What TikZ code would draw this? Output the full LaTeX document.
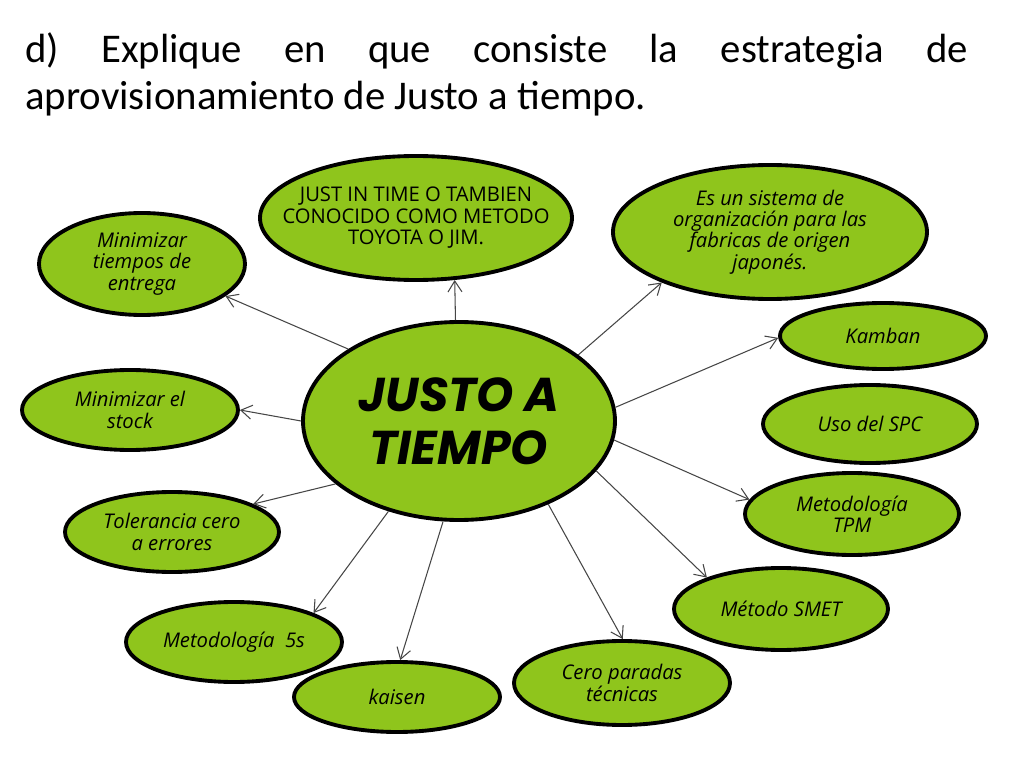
\documentclass[tikz,border=0pt]{standalone}
\usepackage{fontspec}
\setmainfont{Carlito}
\newfontfamily\handfont{Open Sans}
\newfontfamily\brushfont{Poppins}
\usetikzlibrary{shapes.geometric,arrows.meta}
\definecolor{leafgreen}{RGB}{143,197,28}
\definecolor{edgegray}{RGB}{70,70,70}

\begin{document}
\begin{tikzpicture}[
    center_node/.style={ellipse,draw=black,line width=2.2pt,fill=leafgreen,inner sep=0pt,align=center,
      font=\brushfont\bfseries\itshape\fontsize{27}{30}\selectfont},
    leaf_node/.style={ellipse,draw=black,line width=2.2pt,fill=leafgreen,inner sep=0pt,align=center,
      font=\handfont\itshape\fontsize{11.5}{12.2}\selectfont},
    caps_node/.style={leaf_node,inner xsep=-0.5cm,font=\handfont\fontsize{11.5}{12.2}\selectfont},
    link_edge/.style={edgegray,line width=0.6pt,-{Straight Barb[length=2.2mm,width=2.8mm]}},
    title_text/.style={anchor=north west,inner sep=0pt,text width=18.86cm,align=flush left,
      font=\fontsize{23.2}{26.7}\selectfont}]
  \useasboundingbox (0,0) rectangle (20.48,-15.36);
\node[title_text] (t) at (0.50,-0.64) {d)\hfill Explique\hfill en\hfill que\hfill consiste\hfill la\hfill estrategia\hfill de\\aprovisionamiento de Justo a tiempo.};
\node[center_node,minimum width=6.24cm,minimum height=3.96cm] (n0) at (9.18,-8.42) {JUSTO A\\TIEMPO};
\node[caps_node,minimum width=6.24cm,minimum height=2.48cm] (n1) at (8.32,-4.36) {JUST IN TIME O TAMBIEN\\CONOCIDO COMO METODO\\TOYOTA O JIM.};
\node[leaf_node,minimum width=6.28cm,minimum height=2.68cm] (n2) at (15.40,-4.64) {Es un sistema de\\organización para las\\fabricas de origen\\japonés.};
\node[leaf_node,minimum width=4.12cm,minimum height=1.32cm] (n3) at (17.66,-6.72) {Kamban};
\node[leaf_node,minimum width=4.28cm,minimum height=1.56cm] (n4) at (17.40,-8.48) {Uso del SPC};
\node[leaf_node,minimum width=4.28cm,minimum height=1.64cm] (n5) at (17.04,-10.28) {Metodología\\TPM};
\node[leaf_node,minimum width=4.28cm,minimum height=1.64cm] (n6) at (15.62,-12.18) {Método SMET};
\node[leaf_node,minimum width=4.32cm,minimum height=1.68cm] (n7) at (12.44,-13.66) {Cero paradas\\técnicas};
\node[leaf_node,minimum width=4.12cm,minimum height=1.40cm] (n8) at (7.94,-13.94) {kaisen};
\node[leaf_node,minimum width=4.32cm,minimum height=1.60cm] (n9) at (4.68,-12.84) {Metodología~~5s};
\node[leaf_node,minimum width=4.28cm,minimum height=1.60cm] (n10) at (3.44,-10.64) {Tolerancia cero\\a errores};
\node[leaf_node,minimum width=4.32cm,minimum height=1.60cm] (n11) at (2.60,-8.20) {Minimizar el\\stock};
\node[leaf_node,minimum width=4.12cm,minimum height=2.04cm] (n12) at (2.84,-5.28) {Minimizar\\tiempos de\\entrega};
\draw[link_edge] (n0.92) -- (n1.302);
\draw[link_edge] (n0.29) -- (n2.205);
\draw[link_edge] (n0.5) -- (n3.181);
\draw[link_edge] (n0.-7) -- (n5.172);
\draw[link_edge] (n0.-20) -- (n6.157);
\draw[link_edge] (n0.-43) -- (n7.89);
\draw[link_edge] (n0.261) -- (n8.85);
\draw[link_edge] (n0.232) -- (n9.20);
\draw[link_edge] (n0.207) -- (n10.19);
\draw[link_edge] (n0.180) -- (n11.0);
\draw[link_edge] (n0.147) -- (n12.-21);
\end{tikzpicture}
\end{document}
